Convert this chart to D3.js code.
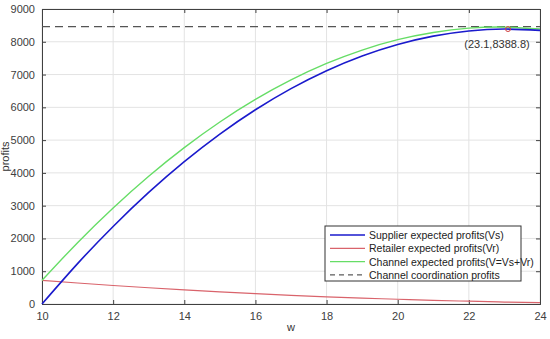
<!DOCTYPE html>
<html><head><meta charset="utf-8">
<script src="https://cdn.jsdelivr.net/npm/d3@7"></script>
<style>body{margin:0;background:#fff}svg{display:block}text{font-family:Arial,"Liberation Sans",sans-serif}</style>
</head><body><svg id="c" width="550" height="339"></svg>
<script>
const wVals = [10,11,12,13,14,15,16,17,18,19,20,21,22,23,24];
const supplier = [0,1232,2366,3403,4341,5182,5925,6570,7118,7567,7919,8173,8330,8388,8349];
const retailer = [720,640,565,495,430,370,315,265,220,180,145,110,85,60,40];
const channel = [720,1872,2931,3898,4771,5552,6240,6835,7338,7747,8064,8283,8415,8448,8389];
const coordination = 8460;
const optimum = {w:23.1, v:8388.8, label:"(23.1,8388.8)"};
const xTicks = [10,12,14,16,18,20,22,24];
const yTicks = [0,1000,2000,3000,4000,5000,6000,7000,8000,9000];
const legendLabels = ["Supplier expected profits(Vs)","Retailer expected profits(Vr)","Channel expected profits(V=Vs+Vr)","Channel coordination profits"];

const svg = d3.select("#c");
const L=42,R=540,T=9,B=304;
const x = d3.scaleLinear().domain([10,24]).range([L,R]);
const y = d3.scaleLinear().domain([0,9000]).range([B,T]);
const g = svg.append("g");
g.selectAll(".gx").data(xTicks).join("line").attr("x1",d=>x(d)).attr("x2",d=>x(d)).attr("y1",T).attr("y2",B).attr("stroke","#e3e3e3").attr("stroke-width",1);
g.selectAll(".gy").data(yTicks).join("line").attr("y1",d=>y(d)).attr("y2",d=>y(d)).attr("x1",L).attr("x2",R).attr("stroke","#e3e3e3").attr("stroke-width",1);
const fmt = d3.format("d");
const ax = d3.axisBottom(x).tickValues(xTicks).tickFormat(fmt).tickSize(-4).tickPadding(8);
const ay = d3.axisLeft(y).tickValues(yTicks).tickFormat(fmt).tickSize(-4).tickPadding(7);
const gx = svg.append("g").attr("transform",`translate(0,${B})`).call(ax);
const gy = svg.append("g").attr("transform",`translate(${L},0)`).call(ay);
const gxt = svg.append("g").attr("transform",`translate(0,${T})`).call(d3.axisTop(x).tickValues(xTicks).tickSize(-4).tickFormat(""));
const gyr = svg.append("g").attr("transform",`translate(${R},0)`).call(d3.axisRight(y).tickValues(yTicks).tickSize(-4).tickFormat(""));
[gx,gy,gxt,gyr].forEach(a=>{a.selectAll("path,line").attr("stroke","#404040");a.selectAll("text").attr("fill","#404040").style("font-size","11px").style("font-family","Arial, 'Liberation Sans', sans-serif");});
svg.append("text").attr("x",(L+R)/2).attr("y",331).attr("text-anchor","middle").attr("fill","#333").style("font-size","11px").text("w");
svg.append("text").attr("transform",`translate(9,${(T+B)/2}) rotate(-90)`).attr("text-anchor","middle").attr("fill","#333").style("font-size","11px").text("profits");
const line = vals => d3.line().x((d,i)=>x(wVals[i])).y(d=>y(d)).curve(d3.curveNatural)(vals);
svg.append("line").attr("x1",L).attr("x2",R).attr("y1",y(coordination)).attr("y2",y(coordination)).attr("stroke","#555").attr("stroke-width",1.3).attr("stroke-dasharray","8,5");
svg.append("path").attr("d",line(retailer)).attr("fill","none").attr("stroke","#d9636b").attr("stroke-width",1.2);
svg.append("path").attr("d",line(channel)).attr("fill","none").attr("stroke","#66dd66").attr("stroke-width",1.4);
svg.append("path").attr("d",line(supplier)).attr("fill","none").attr("stroke","#1a1acc").attr("stroke-width",1.6);
svg.append("circle").attr("cx",x(optimum.w)).attr("cy",y(optimum.v)).attr("r",2.5).attr("fill","none").attr("stroke","#d04040").attr("stroke-width",1);
svg.append("text").attr("x",x(optimum.w)-11).attr("y",y(optimum.v)+19).attr("text-anchor","middle").attr("fill","#333").style("font-size","11px").text(optimum.label);
const lg = svg.append("g");
lg.append("rect").attr("x",325).attr("y",226).attr("width",196).attr("height",55).attr("fill","#fff").attr("stroke","#333").attr("stroke-width",1);
const styles=[{c:"#1a1acc",w:1.6,d:null},{c:"#d9636b",w:1.2,d:null},{c:"#66dd66",w:1.4,d:null},{c:"#333",w:1,d:"5,4"}];
legendLabels.forEach((t,i)=>{
  const yy=235+i*13.3;
  lg.append("line").attr("x1",330).attr("x2",365).attr("y1",yy).attr("y2",yy).attr("stroke",styles[i].c).attr("stroke-width",styles[i].w).attr("stroke-dasharray",styles[i].d);
  lg.append("text").attr("x",369).attr("y",yy+4).attr("fill","#222").style("font-size","10.5px").text(t);
});
</script></body></html>
